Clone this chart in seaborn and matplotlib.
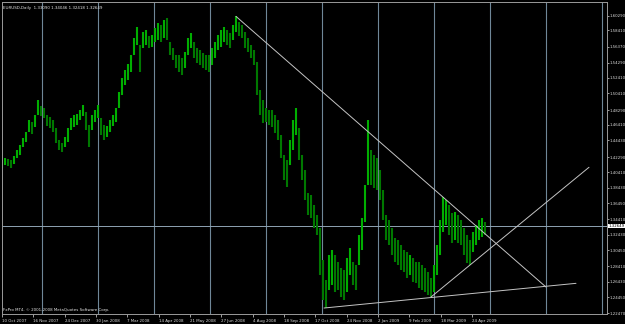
import numpy as np
import matplotlib
matplotlib.use('Agg')
import matplotlib.pyplot as plt
import matplotlib.transforms as mtransforms
import seaborn as sns

highs = [1.419, 1.422, 1.421, 1.419, 1.424, 1.432, 1.438, 1.447, 1.455, 1.470,
         1.468, 1.477, 1.496, 1.488, 1.486, 1.477, 1.474, 1.470, 1.460, 1.445,
         1.441, 1.449, 1.460, 1.473, 1.477, 1.478, 1.483, 1.489, 1.480, 1.464,
         1.477, 1.483, 1.489, 1.473, 1.464, 1.463, 1.470, 1.477, 1.486, 1.506,
         1.524, 1.534, 1.542, 1.553, 1.575, 1.589, 1.566, 1.582, 1.585, 1.577,
         1.578, 1.587, 1.594, 1.591, 1.598, 1.600, 1.570, 1.562, 1.553, 1.553,
         1.549, 1.557, 1.575, 1.581, 1.570, 1.562, 1.559, 1.556, 1.553, 1.553,
         1.562, 1.570, 1.578, 1.585, 1.589, 1.585, 1.581, 1.591, 1.602, 1.595,
         1.591, 1.582, 1.575, 1.566, 1.559, 1.544, 1.508, 1.496, 1.486, 1.483,
         1.483, 1.477, 1.470, 1.451, 1.426, 1.419, 1.445, 1.470, 1.486, 1.460,
         1.426, 1.407, 1.377, 1.375, 1.362, 1.349, 1.333, 1.292, 1.267, 1.299,
         1.305, 1.299, 1.290, 1.282, 1.280, 1.295, 1.307, 1.290, 1.286, 1.324,
         1.346, 1.388, 1.470, 1.432, 1.426, 1.422, 1.407, 1.381, 1.349, 1.343,
         1.333, 1.320, 1.318, 1.311, 1.305, 1.302, 1.299, 1.295, 1.290, 1.290,
         1.286, 1.282, 1.277, 1.269, 1.286, 1.311, 1.343, 1.372, 1.368, 1.362,
         1.352, 1.353, 1.349, 1.343, 1.333, 1.324, 1.318, 1.328, 1.337, 1.343,
         1.346, 1.341]
lows = [1.409, 1.413, 1.412, 1.409, 1.414, 1.422, 1.426, 1.436, 1.442, 1.455,
        1.452, 1.461, 1.477, 1.475, 1.473, 1.463, 1.460, 1.455, 1.441, 1.432,
        1.430, 1.436, 1.442, 1.458, 1.461, 1.464, 1.470, 1.475, 1.458, 1.436,
        1.458, 1.468, 1.473, 1.451, 1.445, 1.449, 1.455, 1.463, 1.468, 1.486,
        1.502, 1.515, 1.521, 1.531, 1.553, 1.566, 1.531, 1.562, 1.566, 1.562,
        1.563, 1.570, 1.572, 1.570, 1.575, 1.572, 1.553, 1.547, 1.536, 1.531,
        1.528, 1.536, 1.553, 1.562, 1.549, 1.543, 1.540, 1.536, 1.534, 1.531,
        1.540, 1.549, 1.559, 1.563, 1.570, 1.566, 1.562, 1.572, 1.582, 1.577,
        1.575, 1.562, 1.557, 1.549, 1.540, 1.502, 1.477, 1.466, 1.468, 1.464,
        1.461, 1.454, 1.445, 1.422, 1.394, 1.385, 1.413, 1.432, 1.451, 1.419,
        1.394, 1.369, 1.349, 1.346, 1.333, 1.324, 1.273, 1.241, 1.231, 1.254,
        1.260, 1.252, 1.254, 1.245, 1.241, 1.252, 1.273, 1.260, 1.254, 1.286,
        1.305, 1.341, 1.388, 1.388, 1.384, 1.381, 1.369, 1.343, 1.318, 1.311,
        1.299, 1.290, 1.286, 1.280, 1.277, 1.269, 1.273, 1.264, 1.263, 1.257,
        1.254, 1.251, 1.248, 1.245, 1.251, 1.273, 1.299, 1.328, 1.337, 1.324,
        1.314, 1.318, 1.314, 1.311, 1.299, 1.288, 1.286, 1.302, 1.311, 1.318,
        1.321, 1.324]

date_labels = ['10 Oct 2007', '16 Nov 2007', '24 Dec 2007', '30 Jan 2008', '7 Mar 2008',
               '14 Apr 2008', '21 May 2008', '27 Jun 2008', '4 Aug 2008', '18 Sep 2008',
               '17 Oct 2008', '24 Nov 2008', '2 Jan 2009', '9 Feb 2009', '18 Mar 2009',
               '24 Apr 2009']
price_labels = ['1.60290', '1.58410', '1.56370', '1.54290', '1.52410', '1.50410', '1.48290',
                '1.46410', '1.44430', '1.42290', '1.40410', '1.38430', '1.36450', '1.34410',
                '1.32430', '1.30450', '1.28410', '1.26430', '1.24450', '1.22470']

header = 'EURUSD,Daily  1.33090 1.34046 1.32418 1.32649'
copyright_txt = 'FxPro MT4, \u00a9 2001-2008 MetaQuotes Software Corp.'
bid_price = 1.3354
bid_text = '1.32649'

# trend lines drawn on the chart: bar position, price
resistance_x = [236, 546]
resistance_y = [1.602, 1.2578]
support_x = [324, 576]
support_y = [1.2311, 1.2625]
rising_x = [431, 589]
rising_y = [1.2451, 1.4101]

sns.set_theme(style='dark', rc={'axes.facecolor': 'black', 'figure.facecolor': 'black',
                                'axes.edgecolor': '#9a9a9a', 'axes.grid': False})
plt.rcParams['font.family'] = ['DejaVu Sans']

fig = plt.figure(figsize=(6.25, 3.24), dpi=100)
W, H = 625, 324
ax = fig.add_axes([1.7 / W, 1 - 314 / H, (606.7 - 1.7) / W, (314 - 1.7) / H])
ax.set_facecolor('black')

bar_x = 2 + 3 * np.arange(len(highs))
mids = (np.array(highs) + np.array(lows)) / 2
up = np.r_[True, mids[1:] >= mids[:-1]]
colors = np.where(up, '#00ae00', '#007800')

# vertical grid
for gx in np.arange(41.7, 606, 56):
    ax.axvline(gx, color='#6f8798', linewidth=0.8, zorder=0)

ax.vlines(bar_x, lows, highs, colors=colors, linewidth=1.5, zorder=2)

for lx, ly in [(resistance_x, resistance_y), (support_x, support_y), (rising_x, rising_y)]:
    sns.lineplot(x=lx, y=ly, color='#c4c4c4', linewidth=0.7, ax=ax, zorder=3)

ax.axhline(bid_price, color='#8fa3b3', linewidth=0.7, zorder=1)

ax.set_xlim(1.7, 606.7)
ax.set_ylim(1.2235, 1.6207)

# price scale on the right
ax.yaxis.tick_right()
ax.set_yticks([float(p) for p in price_labels])
ax.set_yticklabels(price_labels)
ax.tick_params(axis='y', colors='#dcdcdc', labelsize=2.75, length=1.3, width=0.5, pad=0.4,
               right=True, left=False)

# date scale
ax.set_xticks(np.arange(len(date_labels)) * 31.33 + 2)
ax.set_xticklabels(date_labels)
for lab in ax.get_xticklabels():
    lab.set_horizontalalignment('left')
ax.tick_params(axis='x', colors='#dcdcdc', labelsize=2.9, length=2, width=0.5, pad=1.5, bottom=True)

for sp in ax.spines.values():
    sp.set_color('#9a9a9a')
    sp.set_linewidth(0.7)

ax.text(0.002, 0.987, header, transform=ax.transAxes, color='#e6e6e6', fontsize=2.9,
        ha='left', va='top')
ax.text(0.002, 0.006, copyright_txt, transform=ax.transAxes, color='#e6e6e6', fontsize=2.9,
        ha='left', va='bottom')

trans = mtransforms.blended_transform_factory(ax.transAxes, ax.transData)
ax.text(1.003, bid_price, bid_text, transform=trans, color='black', fontsize=2.75,
        ha='left', va='center',
        bbox=dict(boxstyle='square,pad=0.12', facecolor='white', edgecolor='none'))

ax.set_xlabel('')
ax.set_ylabel('')
fig.savefig('out.png', dpi=100, facecolor='black')
